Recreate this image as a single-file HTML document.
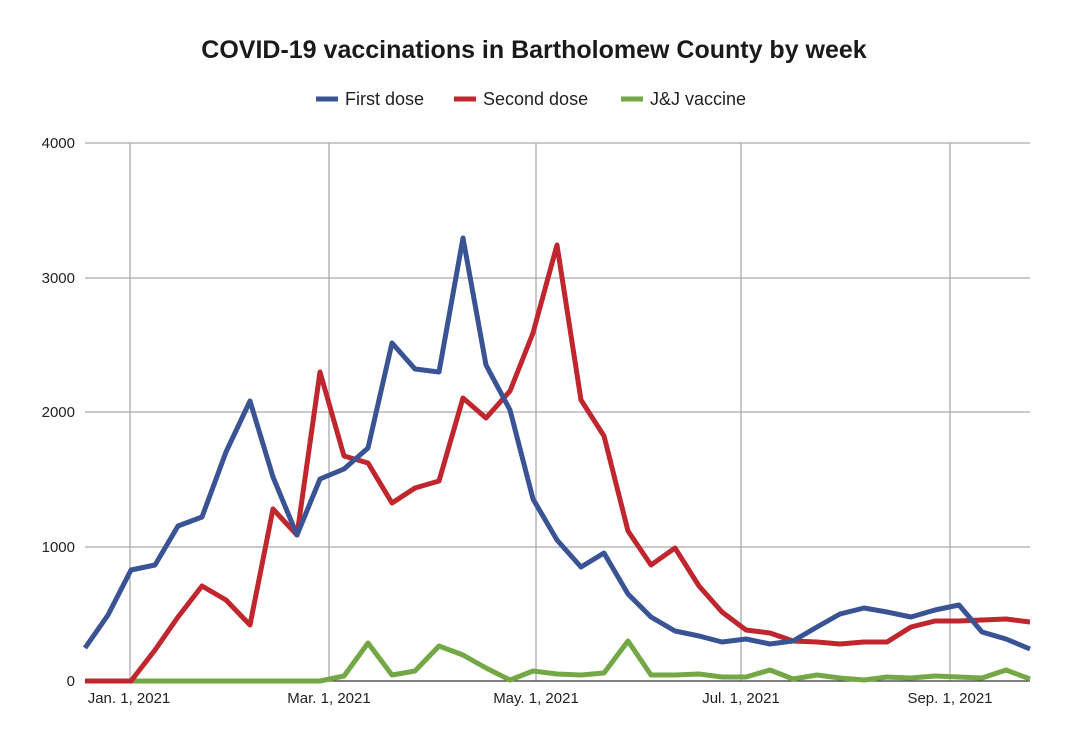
<!DOCTYPE html>
<html><head><meta charset="utf-8"><style>
body{margin:0;background:#fff;}
svg{display:block;font-family:"Liberation Sans",Arial,sans-serif;}
</style></head><body>
<svg width="1068" height="744" viewBox="0 0 1068 744">
<rect width="1068" height="744" fill="#fff"/>
<text x="534" y="58" text-anchor="middle" font-size="25" font-weight="bold" fill="#1a1a1a">COVID-19 vaccinations in Bartholomew County by week</text>
<g font-size="18" fill="#222">
<line x1="316" y1="99" x2="338" y2="99" stroke="#3a5394" stroke-width="5"/><text x="345" y="105">First dose</text>
<line x1="454" y1="99" x2="476" y2="99" stroke="#c0262d" stroke-width="5"/><text x="483" y="105">Second dose</text>
<line x1="621" y1="99" x2="643" y2="99" stroke="#74a746" stroke-width="5"/><text x="650" y="105">J&amp;J vaccine</text>
</g>
<g stroke="#aaa" stroke-width="1.3">
<line x1="85" y1="143" x2="1030" y2="143"/><line x1="85" y1="278" x2="1030" y2="278"/><line x1="85" y1="412" x2="1030" y2="412"/><line x1="85" y1="547" x2="1030" y2="547"/>
<line x1="130" y1="143" x2="130" y2="681"/><line x1="329" y1="143" x2="329" y2="681"/><line x1="536" y1="143" x2="536" y2="681"/><line x1="741" y1="143" x2="741" y2="681"/><line x1="950" y1="143" x2="950" y2="681"/>
</g>
<line x1="85" y1="681" x2="1030" y2="681" stroke="#333" stroke-width="1.3"/>
<g font-size="15" fill="#222" text-anchor="end">
<text x="75" y="148">4000</text><text x="75" y="283">3000</text><text x="75" y="417">2000</text><text x="75" y="552">1000</text><text x="75" y="686">0</text>
</g>
<g font-size="15" fill="#222" text-anchor="middle">
<text x="129" y="703">Jan. 1, 2021</text><text x="329" y="703">Mar. 1, 2021</text><text x="536" y="703">May. 1, 2021</text><text x="741" y="703">Jul. 1, 2021</text><text x="950" y="703">Sep. 1, 2021</text>
</g>
<g fill="none" stroke-width="5" stroke-linejoin="round">
<polyline stroke="#74a746" points="85,681 108,681 131,681 155,681 178,681 202,681 226,681 250,681 273,681 297,681 320,681 344,676 368,643 392,675 415,671 439,646 463,655 486,668 510,680 533,671 557,674 581,675 604,673 628,641 651,675 675,675 699,674 722,677 746,677 770,670 793,679 817,675 840,678 864,680 887,677 911,678 935,676 959,677 982,678 1006,670 1030,679"/>
<polyline stroke="#c0262d" points="85,681 108,681 131,681 155,650 178,617 202,586 226,600 250,625 273,509 297,535 320,372 344,456 368,463 392,503 415,488 439,481 463,398 486,418 510,391 533,333 557,245 581,400 604,436 628,531 651,565 675,548 699,586 722,612 746,630 770,633 793,641 817,642 840,644 864,642 887,642 911,627 935,621 959,621 982,620 1006,619 1030,622"/>
<polyline stroke="#3a5394" points="85,648 108,615 131,570 155,565 178,526 202,517 226,452 250,401 273,477 297,535 320,479 344,469 368,448 392,343 415,369 439,372 463,238 486,365 510,410 533,499 557,540 581,567 604,553 628,594 651,617 675,631 699,636 722,642 746,639 770,644 793,641 817,627 840,614 864,608 887,612 911,617 935,610 959,605 982,632 1006,639 1030,649"/>
</g>
</svg>
</body></html>
